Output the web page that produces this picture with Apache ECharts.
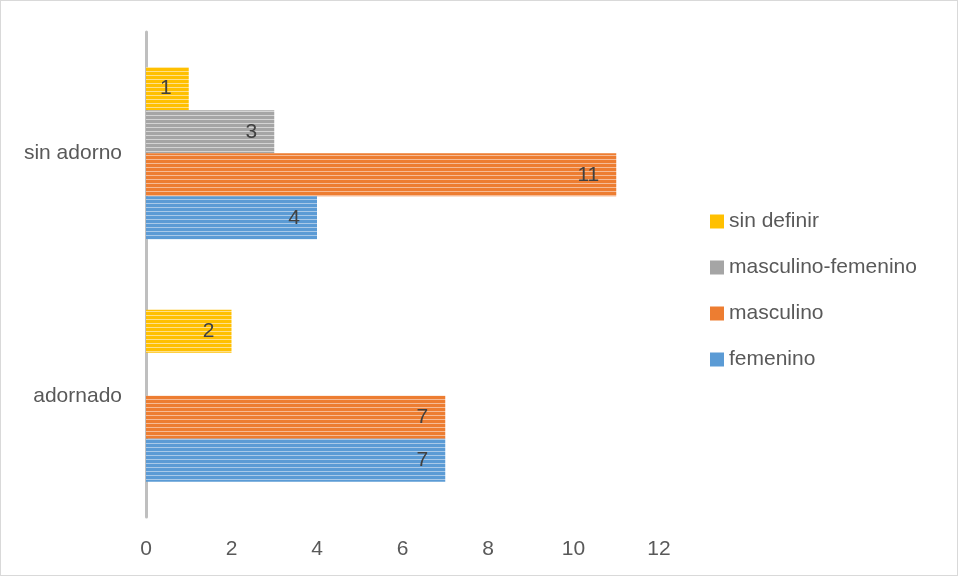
<!DOCTYPE html>
<html><head><meta charset="utf-8">
<script src="https://cdn.jsdelivr.net/npm/echarts@6/dist/echarts.min.js"></script>
<style>html,body{margin:0;padding:0;background:#fff}#c{width:956px;height:574px;border:1px solid #d9d9d9}</style>
</head><body><div id="c"></div>
<script>
var categories = ['adornado', 'sin adorno'];
var seriesNames = ['sin definir', 'masculino-femenino', 'masculino', 'femenino'];
var sinDefinir = [2, 1];
var masculinoFemenino = [null, 3];
var masculino = [7, 11];
var femenino = [7, 4];
var xTicks = [0, 2, 4, 6, 8, 10, 12];

var colors = ['#ffc000', '#a5a5a5', '#ed7d31', '#5b9bd5'];
var lights = ['#ffe08a', '#d4d4d4', '#f6bb95', '#a9c9e8'];
function pattern(c, l) {
  var cv = document.createElement('canvas');
  cv.width = 8; cv.height = 4;
  var ctx = cv.getContext('2d');
  ctx.fillStyle = c; ctx.fillRect(0, 0, 8, 4);
  ctx.fillStyle = l; ctx.fillRect(0, 2, 8, 1);
  return { image: cv, repeat: 'repeat' };
}
var dataSets = [sinDefinir, masculinoFemenino, masculino, femenino];
var chart = echarts.init(document.getElementById('c'));
var font = '"Liberation Sans", "Open Sans", sans-serif';
chart.setOption({
  animation: false,
  textStyle: { fontFamily: font },
  grid: { left: 145, right: 298, top: 31, bottom: 58, containLabel: false },
  legend: {
    orient: 'vertical', left: 704, top: 205,
    data: seriesNames.map(function (n, i) { return { name: n, itemStyle: { color: colors[i] } }; }),
    itemWidth: 14, itemHeight: 14, itemGap: 25, itemTextGap: 7, icon: 'rect',
    textStyle: { fontSize: 21, color: '#595959', fontFamily: font }
  },
  xAxis: {
    type: 'value', min: xTicks[0], max: xTicks[xTicks.length - 1], interval: 2,
    axisLine: { show: false }, axisTick: { show: false }, splitLine: { show: false },
    axisLabel: { fontSize: 21, color: '#595959', margin: 22 }
  },
  yAxis: {
    type: 'category', data: categories,
    axisLine: { show: true, lineStyle: { color: '#bfbfbf', width: 3 } },
    axisTick: { show: false },
    axisLabel: { fontSize: 21, color: '#595959', margin: 24 }
  },
  series: seriesNames.map(function (n, i) {
    return {
      name: n, type: 'bar', data: dataSets[i],
      barGap: 0, barCategoryGap: '29%',
      itemStyle: { color: pattern(colors[i], lights[i]) },
      label: { show: true, position: 'insideRight', distance: 17, fontSize: 21, color: '#404040' }
    };
  })
});
</script></body></html>
